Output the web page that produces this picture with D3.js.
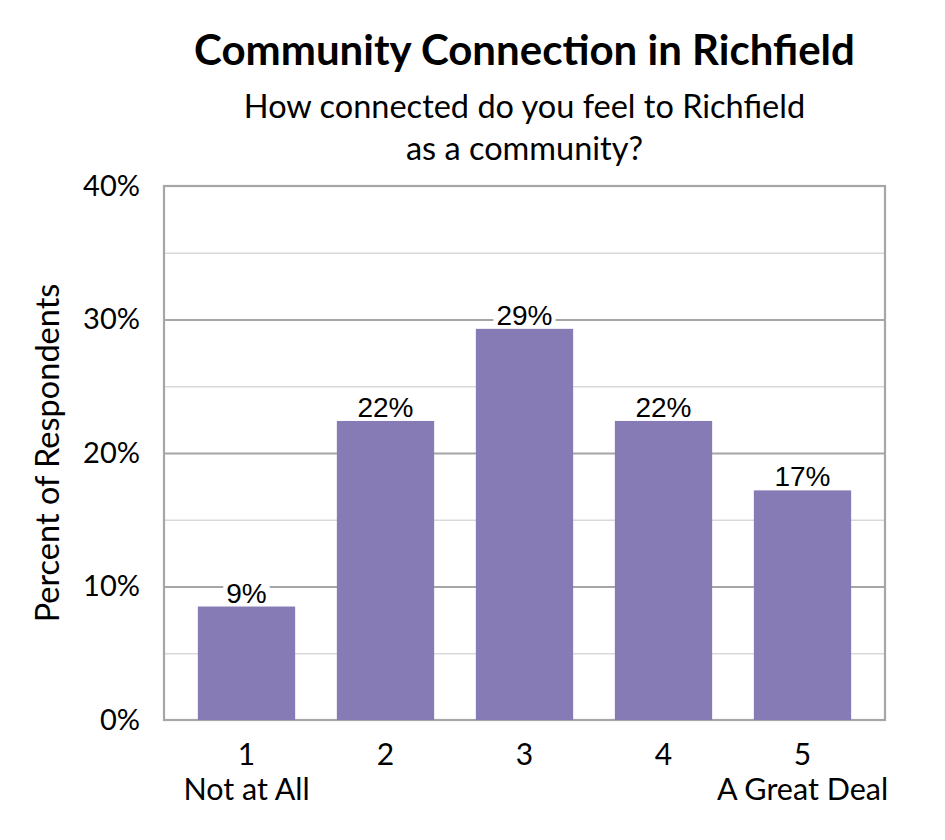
<!DOCTYPE html>
<html>
<head>
<meta charset="utf-8">
<script src="https://cdn.jsdelivr.net/npm/d3@7"></script>
<style>
  body { margin: 0; background: #fff; }
  svg { display: block; }
</style>
</head>
<body>
<div id="chart"></div>
<script>
const categories = ["1", "2", "3", "4", "5"];
const categoryNotes = ["Not at All", "", "", "", "A Great Deal"];
const values = [8.5, 22.4, 29.3, 22.4, 17.2];
const valueLabels = ["9%", "22%", "29%", "22%", "17%"];
const yTicks = [0, 10, 20, 30, 40];
const gridTicks = [5, 10, 15, 20, 25, 30, 35];

const width = 945;
const height = 840;
const svg = d3.select("#chart").append("svg")
  .attr("width", width)
  .attr("height", height);

const plot = { left: 164, right: 885, top: 186, bottom: 720 };
const calibri = "Lato, 'Open Sans', sans-serif";

const y = d3.scaleLinear()
  .domain([0, 40])
  .range([plot.bottom, plot.top]);

const x = d3.scaleBand()
  .domain(categories)
  .range([177, 872])
  .paddingInner(0.3)
  .paddingOuter(0.15);

// gridlines
const grid = svg.append("g")
  .attr("transform", `translate(${plot.left},0)`)
  .call(d3.axisLeft(y).tickValues(gridTicks).tickSize(-(plot.right - plot.left)).tickFormat(""));
grid.select(".domain").remove();
grid.selectAll(".tick line")
  .attr("stroke", d => d % 10 === 0 ? "#a6a6a6" : "#d9d9d9")
  .attr("stroke-width", d => d % 10 === 0 ? 2.2 : 1.6);

// plot border
svg.append("rect")
  .attr("x", plot.left)
  .attr("y", plot.top)
  .attr("width", plot.right - plot.left)
  .attr("height", plot.bottom - plot.top)
  .attr("fill", "none")
  .attr("stroke", "#a6a6a6")
  .attr("stroke-width", 2.2);

// bars
svg.append("g")
  .selectAll("rect")
  .data(values)
  .join("rect")
  .attr("x", (d, i) => x(categories[i]))
  .attr("y", d => y(d))
  .attr("width", x.bandwidth())
  .attr("height", d => y(0) - y(d))
  .attr("fill", "#877bb5");

// value labels with white box behind them
const lab = svg.append("g")
  .selectAll("g")
  .data(values)
  .join("g");
lab.append("rect").attr("fill", "#fff");
lab.append("text")
  .attr("x", (d, i) => x(categories[i]) + x.bandwidth() / 2)
  .attr("y", d => y(d) - 4)
  .attr("text-anchor", "middle")
  .style("font-family", "'Liberation Sans', Arial, sans-serif")
  .style("font-size", "28px")
  .attr("fill", "#000")
  .text((d, i) => valueLabels[i]);
lab.each(function (d) {
  const g = d3.select(this);
  const b = g.select("text").node().getBBox();
  const bottom = y(d) - 1;
  g.select("rect")
    .attr("x", b.x - 3)
    .attr("y", b.y + 3)
    .attr("width", b.width + 6)
    .attr("height", Math.max(0, bottom - (b.y + 3)));
});

// y axis tick labels
const yAxis = svg.append("g")
  .attr("transform", `translate(${plot.left},0)`)
  .call(d3.axisLeft(y).tickValues(yTicks).tickSize(0).tickPadding(24).tickFormat(d => d + "%"));
yAxis.select(".domain").remove();
yAxis.selectAll("text")
  .style("font-family", calibri)
  .style("font-size", "29px")
  .attr("fill", "#000");

// x axis labels: number plus optional note on a second line
const xAxis = svg.append("g")
  .attr("transform", `translate(0,${plot.bottom})`)
  .call(d3.axisBottom(x).tickSize(0).tickPadding(24));
xAxis.select(".domain").remove();
xAxis.selectAll(".tick text")
  .style("font-family", calibri)
  .style("font-size", "30px")
  .attr("fill", "#000")
  .each(function (d, i) {
    const t = d3.select(this);
    t.text(null);
    t.append("tspan").attr("x", 0).text(d);
    if (categoryNotes[i]) {
      t.append("tspan")
        .attr("x", 0)
        .attr("dy", "1.15em")
        .style("font-size", "30.5px")
        .text(categoryNotes[i]);
    }
  });

// y axis title
svg.append("text")
  .attr("transform", `translate(59,${(plot.top + plot.bottom) / 2}) rotate(-90)`)
  .attr("text-anchor", "middle")
  .style("font-family", calibri)
  .style("font-size", "32.5px")
  .text("Percent of Respondents");

// titles
const cx = (plot.left + plot.right) / 2;
svg.append("text")
  .attr("x", cx).attr("y", 65)
  .attr("text-anchor", "middle")
  .style("font-family", calibri)
  .style("font-weight", "bold")
  .style("font-size", "42px")
  .text("Community Connection in Richfield");

svg.append("text")
  .attr("x", cx).attr("y", 118)
  .attr("text-anchor", "middle")
  .style("font-family", calibri)
  .style("font-size", "32.5px")
  .text("How connected do you feel to Richfield");

svg.append("text")
  .attr("x", cx).attr("y", 160)
  .attr("text-anchor", "middle")
  .style("font-family", calibri)
  .style("font-size", "32.5px")
  .text("as a community?");
</script>
</body>
</html>
